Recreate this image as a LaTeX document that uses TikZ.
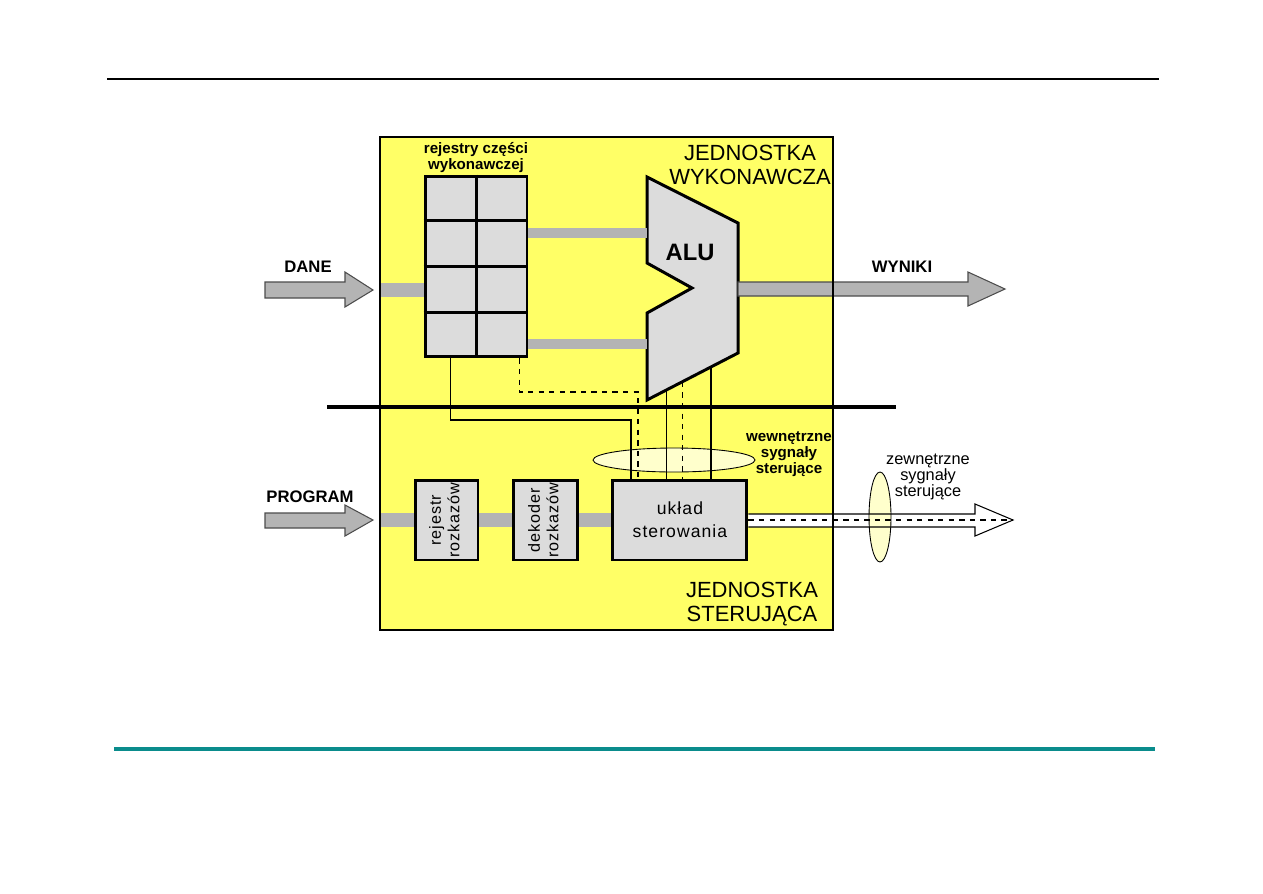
\documentclass[tikz,border=0pt]{standalone}
\usepackage{fontspec}
\setmainfont{Liberation Sans}
\newfontfamily\widefont[LetterSpace=6]{Liberation Sans}
\usepackage{graphicx}
\usepackage{tikz}
\usetikzlibrary{positioning,calc}

\definecolor{unityellow}{HTML}{FFFF66}
\definecolor{boxgray}{HTML}{DCDCDC}
\definecolor{busgray}{HTML}{B4B4B4}
\definecolor{ringfill}{HTML}{FFFFCC}
\definecolor{footteal}{HTML}{0A8C8C}

\begin{document}
\begin{tikzpicture}[x=0.02cm, y=-0.02cm,
  node distance=0.65cm,
  unit/.style={fill=unityellow, outer sep=0pt, inner sep=0pt, minimum width=9.06cm, minimum height=9.86cm},
  blk/.style={draw, line width=1.7pt, fill=boxgray, inner sep=0pt, minimum height=1.6cm},
  bus/.style={draw=busgray, line width=7.9pt},
  thinbus/.style={draw=busgray, line width=5.7pt},
  fat/.style={draw=black!70, fill=busgray, line width=0.6pt},
  ctl/.style={line width=0.6pt},
  ring/.style={draw, fill=ringfill, line width=0.5pt},
  lbl/.style={font={\bfseries\fontsize{8.6}{9.1}\selectfont}, align=center, inner sep=0pt},
  big/.style={font=\fontsize{12.5}{14}\selectfont, align=center},
  io/.style={font=\bfseries\fontsize{9.5}{11}\selectfont},
  rotlbl/.style={font=\widefont\fontsize{9.2}{10.5}\selectfont}]
\useasboundingbox (0,0) rectangle (1263,893);

% page rules
\draw[line width=0.8pt] (107,79) -- (1159,79);
\draw[footteal, line width=2pt] (114,749) -- (1155,749);

% processor
\node[unit] (eu) at (606.5,383.5) {};
\draw[line width=1.8pt] (327,407) -- (896,407);

% execution unit
\node[blk, minimum width=2.04cm, minimum height=3.62cm] (regs) at (476,266.5) {};
\draw[line width=1.7pt] (regs.north) -- (regs.south);
\foreach \f in {0.25,0.5,0.75}
  \draw[line width=1.7pt] ($(regs.north west)!\f!(regs.south west)$) -- ($(regs.north east)!\f!(regs.south east)$);
\node[lbl] (regs-lbl) at (476,158) {rejestry części\\wykonawczej};

\coordinate (alu-bl) at (647,400);
\coordinate (alu-br) at (738,353);
\coordinate (alu-a) at (647,233);
\coordinate (alu-b) at (647,344);
\draw[line width=1.7pt, fill=boxgray] (647,177) -- (738,223) -- (alu-br) -- (alu-bl) -- (647,313) -- (692,288) -- (647,263) -- cycle;
\node[font=\bfseries\fontsize{13.5}{15}\selectfont] (alu) at (690,252) {ALU};

\draw[thinbus] (regs.east |- alu-a) -- (alu-a);
\draw[thinbus] (regs.east |- alu-b) -- (alu-b);

\coordinate (dane-in) at (380,290);
\draw[bus] (dane-in) -- (regs.west |- dane-in);
\draw[fat] (265,282) -- (345,282) -- (345,272) -- (373,290) -- (345,307) -- (345,298) -- (265,298) -- cycle;
\node[io] (dane) at (308,267) {DANE};

\draw[fat] (738,282) -- (968,282) -- (968,272) -- (1005,289) -- (968,306) -- (968,296) -- (738,296) -- cycle;
\node[io] (wyniki) at (902,267) {WYNIKI};

\node[big] (eu-title) at (750,165) {JEDNOSTKA\\WYKONAWCZA};

% control unit
\node[blk, rotlbl, minimum width=1.26cm] (ir) at (446.5,520) {\rotatebox{90}{\begin{tabular}{@{}c@{}}rejestr\\rozkazów\end{tabular}}};
\node[blk, rotlbl, minimum width=1.28cm, right=of ir] (dec) {\rotatebox{90}{\begin{tabular}{@{}c@{}}dekoder\\rozkazów\end{tabular}}};
\node[blk, minimum width=2.68cm, right=of dec, align=center, font=\widefont\fontsize{10}{13}\selectfont] (ster) {układ\\sterowania};

\coordinate (prog-in) at (380,520);
\draw[bus] (prog-in) -- (ir.west);
\draw[bus] (ir) -- (dec);
\draw[bus] (dec) -- (ster);
\draw[fat] (265,513) -- (345,513) -- (345,505) -- (373,520) -- (345,536) -- (345,528) -- (265,528) -- cycle;
\node[io] (prog) at (310,497) {PROGRAM};

\node[big] (cu-title) at (752,604) {JEDNOSTKA\\STERUJĄCA};

% internal control signals
\draw[ring] (674,460) ellipse [x radius=1.62cm, y radius=0.24cm];
\path ($(alu-bl)!0.21!(alu-br)$) coordinate (s1)
      ($(alu-bl)!0.385!(alu-br)$) coordinate (s2)
      ($(alu-bl)!0.703!(alu-br)$) coordinate (s3);
\draw[ctl] ($(regs.south west)+(27,0)$) |- (631,420) -- (631,0 |- ster.north);
\draw[ctl, dashed] ($(regs.south east)+(-9,0)$) |- (638,392) -- (638,0 |- ster.north);
\draw[ctl] (s1) -- (s1 |- ster.north);
\draw[ctl, dashed] (s2) -- (s2 |- ster.north);
\draw[ctl] (s3) -- (s3 |- ster.north);
\node[lbl] (int-lbl) at (789,454) {wewnętrzne\\sygnały\\sterujące};

% external control signals
\coordinate (ext-tip) at (1013,520);
\fill[white] (ster.east |- 0,514) -- (975,514) -- (975,504) -- (ext-tip) -- (975,536) -- (975,527) -- (ster.east |- 0,527) -- cycle;
\draw[ring] (880,517) ellipse [x radius=0.22cm, y radius=0.9cm];
\draw[ctl] (ster.east |- 0,514) -- (975,514) -- (975,504) -- (ext-tip) -- (975,536) -- (975,527) -- (ster.east |- 0,527);
\draw[ctl, dashed] (ster.east) -- (ext-tip);
\node[font={\fontsize{9.3}{9.3}\selectfont}, align=center, inner sep=0pt] (ext-lbl) at (928,477) {zewnętrzne\\sygnały\\sterujące};

% unit outline on top
\draw[line width=1.2pt] (eu.north west) rectangle (eu.south east);
\end{tikzpicture}
\end{document}
